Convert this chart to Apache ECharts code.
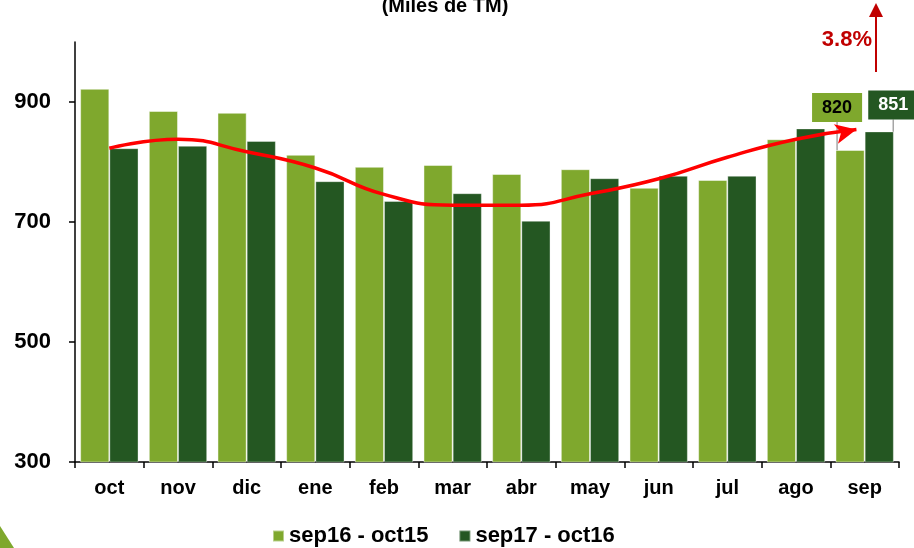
<!DOCTYPE html>
<html>
<head>
<meta charset="utf-8">
<script src="https://cdn.jsdelivr.net/npm/echarts@6/dist/echarts.min.js"></script>
<style>
html, body { margin: 0; padding: 0; background: #fff; }
#chart { width: 914px; height: 548px; }
</style>
</head>
<body>
<div id="chart"></div>
<script>
var months = ['oct', 'nov', 'dic', 'ene', 'feb', 'mar', 'abr', 'may', 'jun', 'jul', 'ago', 'sep'];
var prevYear = [922, 885, 882, 812, 792, 795, 780, 788, 757, 770, 838, 820];
var currYear = [823, 827, 835, 768, 735, 748, 702, 773, 777, 777, 856, 851];
// trend curve drawn over the bars (x in category units)
var trendX = [0.5, 1.5, 2.5, 3.5, 4.5, 5.5, 6.5, 7.5, 8.5, 9.5, 10.5, 11.38];
var trendY = [823, 838, 817, 790, 746, 728, 728, 747, 772, 808, 838, 854];
var yTicks = [300, 500, 700, 900];

var FONT = 'Liberation Sans, Arial, sans-serif';
var LIGHT = '#7fa82d', DARK = '#245722';

var chart = echarts.init(document.getElementById('chart'));

var trendData = trendX.map(function (x, i) {
    var item = { value: [x, trendY[i]] };
    if (i == trendX.length - 1) {
        item.symbol = 'arrow';
        item.symbolSize = [15, 21];
        item.symbolRotate = -78;
    }
    return item;
});

function lastLabel(v, bg, color) {
    return {
        value: v,
        label: {
            show: true,
            position: 'top',
            formatter: '{c}',
            backgroundColor: bg,
            color: color,
            fontFamily: FONT,
            fontWeight: 'bold',
            fontSize: 18,
            padding: [6, 10, 5, 10]
        }
    };
}

var prevData = prevYear.slice(0, 11).concat([lastLabel(prevYear[11], LIGHT, '#000')]);
var currData = currYear.slice(0, 11).concat([lastLabel(currYear[11], DARK, '#fff')]);

var option = {
    animation: false,
    grid: { left: 75, right: 15, top: 42, bottom: 86 },
    legend: {
        data: ['sep16 - oct15', 'sep17 - oct16'],
        left: 267, top: 520,
        icon: 'rect', itemWidth: 11, itemHeight: 11, itemGap: 30,
        textStyle: { fontFamily: FONT, fontWeight: 'bold', fontSize: 22, color: '#000' }
    },
    xAxis: [{
        type: 'category',
        data: months,
        axisLine: { lineStyle: { color: '#000', width: 1.5 } },
        axisTick: { show: true, length: 6, lineStyle: { color: '#000', width: 1.5 } },
        axisLabel: { color: '#000', fontFamily: FONT, fontWeight: 'bold', fontSize: 20, margin: 16 }
    }, {
        type: 'value', min: 0, max: 12, show: false
    }],
    yAxis: {
        type: 'value',
        min: 300, max: 1000,
        splitLine: { show: false },
        axisLine: { show: true, lineStyle: { color: '#000', width: 1.5 } },
        axisTick: { show: true, length: 6, customValues: yTicks, lineStyle: { color: '#000', width: 1.5 } },
        axisLabel: { customValues: yTicks, color: '#000', fontFamily: FONT, fontWeight: 'bold', fontSize: 22, margin: 24 }
    },
    series: [
        {
            name: 'sep16 - oct15',
            type: 'bar',
            data: prevData,
            barGap: 0,
            barCategoryGap: '15%',
            itemStyle: { color: LIGHT, borderColor: 'rgba(255,255,255,0.45)', borderWidth: 1 },
            labelLine: { show: true, lineStyle: { color: '#a6a6a6', width: 1.5 } },
            labelLayout: function (p) { return p.dataIndex == 11 ? { dx: -13, dy: -23 } : {}; }
        },
        {
            name: 'sep17 - oct16',
            type: 'bar',
            data: currData,
            itemStyle: { color: DARK, borderColor: 'rgba(255,255,255,0.35)', borderWidth: 1 },
            labelLine: { show: true, lineStyle: { color: '#a6a6a6', width: 1.5 } },
            labelLayout: function (p) { return p.dataIndex == 11 ? { dx: 14, dy: -7 } : {}; }
        },
        {
            name: 'trend',
            type: 'line',
            xAxisIndex: 1,
            data: trendData,
            smooth: true,
            symbol: 'none',
            lineStyle: { color: '#ff0000', width: 3.5 },
            itemStyle: { color: '#ff0000' },
            z: 5
        }
    ],
    graphic: [
        {
            type: 'text', style: {
                x: 445, y: -4, text: '(Miles de TM)', textAlign: 'center', textVerticalAlign: 'top',
                font: 'bold 20px ' + FONT, fill: '#000'
            }
        },
        {
            type: 'line', shape: { x1: 876, y1: 72, x2: 876, y2: 14 },
            style: { stroke: '#c00000', lineWidth: 2 }
        },
        {
            type: 'polygon', shape: { points: [[876, 3], [869, 17], [883, 17]] },
            style: { fill: '#c00000' }
        },
        {
            type: 'text', style: {
                x: 872, y: 40, text: '3.8%', textAlign: 'right', textVerticalAlign: 'middle',
                font: 'bold 22px ' + FONT, fill: '#c00000'
            }
        },
        {
            type: 'polygon', shape: { points: [[0, 526], [14, 548], [0, 548]] },
            style: { fill: '#7fa82d' }
        }
    ]
};

chart.setOption(option);
</script>
</body>
</html>
